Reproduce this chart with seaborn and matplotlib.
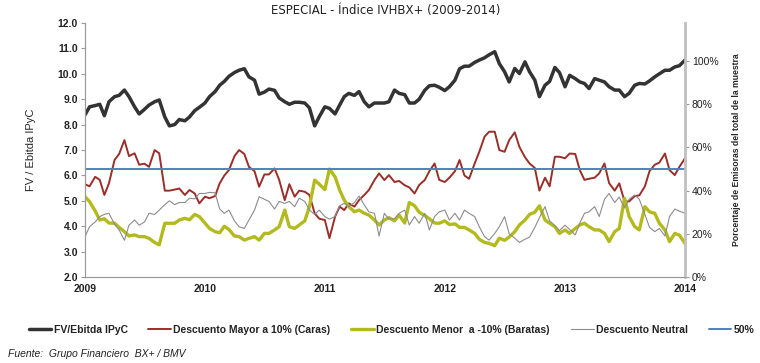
import pandas as pd
import numpy as np
import matplotlib
matplotlib.use("Agg")
import matplotlib.pyplot as plt
import matplotlib.dates as mdates
import seaborn as sns

# semi-monthly points, Jan 2009 - Jan 2014 (121 points)
fechas = pd.date_range("2009-01-01", "2014-01-01", freq="SMS")

# FV/Ebitda IPyC (left axis, multiple)
fv_ebitda = [
    8.38, 8.70, 8.75, 8.80, 8.35, 8.90, 9.10, 9.15, 9.36, 9.10,
    8.70, 8.42, 8.60, 8.77, 8.90, 8.97, 8.30, 7.95, 8.00, 8.20,
    8.15, 8.30, 8.55, 8.68, 8.85, 9.10, 9.30, 9.55, 9.70, 9.90,
    10.05, 10.14, 10.20, 9.88, 9.75, 9.20, 9.28, 9.40, 9.35, 9.05,
    8.90, 8.80, 8.88, 8.88, 8.85, 8.66, 7.95, 8.31, 8.70, 8.64,
    8.42, 8.77, 9.10, 9.23, 9.15, 9.30, 8.90, 8.70, 8.85, 8.85,
    8.85, 8.90, 9.36, 9.23, 9.18, 8.85, 8.85, 9.00, 9.35, 9.53,
    9.55, 9.47, 9.34, 9.49, 9.75, 10.20, 10.30, 10.30, 10.45, 10.54,
    10.63, 10.75, 10.87, 10.40, 10.08, 9.68, 10.21, 10.01, 10.47, 10.08,
    9.75, 9.10, 9.55, 9.70, 10.25, 10.05, 9.49, 9.94, 9.81, 9.68,
    9.62, 9.42, 9.81, 9.75, 9.68, 9.49, 9.36, 9.36, 9.10, 9.23,
    9.55, 9.62, 9.60, 9.72, 9.88, 10.00, 10.14, 10.14, 10.27, 10.32,
    10.54,
]

# % of issuers (right axis)
caras = [
    43.0, 42.0, 46.4, 45.0, 38.0, 43.4, 54.2, 57.0, 63.4, 56.0,
    57.3, 52.0, 52.5, 51.0, 58.8, 57.3, 40.0, 40.0, 40.5, 41.0,
    38.0, 40.3, 38.7, 34.1, 37.2, 36.5, 37.5, 43.4, 47.0, 49.5,
    56.0, 58.8, 57.0, 51.0, 49.0, 41.8, 47.5, 47.5, 50.3, 45.0,
    35.6, 43.0, 37.2, 40.0, 39.5, 38.0, 29.5, 27.0, 26.4, 18.0,
    27.9, 32.6, 31.0, 34.1, 32.6, 35.6, 38.0, 40.3, 44.9, 48.0,
    44.9, 47.2, 44.0, 44.5, 42.5, 41.5, 38.7, 42.6, 44.9, 49.0,
    52.6, 45.0, 44.0, 46.0, 49.0, 54.2, 47.0, 45.5, 52.6, 58.0,
    65.0, 67.3, 67.3, 58.8, 58.0, 63.4, 67.0, 60.3, 55.5, 52.6,
    50.5, 40.0, 46.0, 42.0, 55.7, 55.7, 55.0, 57.2, 57.0, 49.5,
    45.0, 45.5, 46.0, 48.0, 52.6, 43.5, 40.0, 43.4, 35.0, 35.0,
    37.5, 37.8, 42.0, 49.0, 52.0, 53.0, 57.2, 49.5, 47.2, 51.0,
    55.0,
]

baratas = [
    37.2, 34.9, 30.6, 26.4, 27.0, 25.0, 24.9, 23.0, 21.0, 19.0,
    19.5, 18.7, 18.7, 17.9, 16.0, 14.9, 24.9, 24.9, 24.9, 26.4,
    27.2, 26.5, 29.0, 28.0, 25.0, 22.5, 21.0, 20.5, 23.5, 22.0,
    19.0, 18.7, 17.1, 17.9, 18.7, 17.1, 20.2, 20.2, 21.8, 23.3,
    31.0, 23.3, 22.5, 24.1, 26.0, 32.6, 44.9, 43.0, 40.5, 50.0,
    46.4, 40.3, 35.6, 32.6, 30.2, 31.0, 29.5, 28.7, 26.4, 24.1,
    26.4, 27.5, 26.0, 28.7, 25.0, 34.5, 33.0, 30.0, 28.5, 27.0,
    25.0, 24.9, 26.0, 24.3, 24.6, 23.0, 23.0, 21.8, 20.2, 17.5,
    16.0, 15.6, 14.5, 18.0, 17.0, 18.5, 21.0, 24.1, 26.4, 29.0,
    30.0, 33.0, 26.4, 24.9, 23.3, 20.2, 21.8, 20.2, 22.5, 24.1,
    24.9, 23.3, 21.8, 21.8, 20.2, 16.4, 21.0, 22.5, 36.5, 28.0,
    23.3, 21.8, 32.6, 30.2, 29.5, 24.9, 21.8, 16.4, 20.2, 19.4,
    15.6,
]

neutral = [
    18.7, 23.3, 25.5, 28.0, 29.0, 29.5, 24.5, 21.8, 17.0, 24.0,
    26.4, 24.0, 25.5, 29.5, 29.0, 31.0, 33.5, 35.3, 33.5, 34.5,
    34.5, 36.5, 36.2, 38.7, 38.7, 39.2, 39.0, 31.5, 29.5, 31.0,
    26.0, 23.3, 22.5, 26.4, 31.0, 37.2, 36.0, 35.0, 31.5, 35.0,
    34.1, 35.0, 32.6, 36.5, 35.0, 31.0, 29.0, 31.0, 28.0, 26.8,
    28.0, 33.0, 34.1, 32.6, 34.5, 37.5, 33.4, 30.2, 29.5, 19.0,
    29.5, 26.8, 27.0, 29.5, 31.0, 24.1, 28.0, 24.9, 29.5, 21.8,
    28.0, 30.2, 31.0, 26.4, 29.5, 26.4, 31.0, 29.5, 28.0, 23.3,
    18.7, 17.1, 20.2, 23.3, 28.0, 20.0, 18.0, 16.0, 17.5, 18.5,
    23.0, 27.5, 32.6, 26.0, 23.8, 21.5, 24.0, 22.0, 19.5, 25.0,
    29.5, 30.2, 32.6, 28.0, 36.0, 38.7, 34.5, 37.0, 32.0, 36.0,
    38.0, 36.0, 29.0, 23.0, 21.0, 22.5, 19.0, 28.0, 31.5, 30.5,
    29.5,
]

linea_50 = 50
etiquetas = ["FV/Ebitda IPyC", "Descuento Mayor a 10% (Caras)",
             "Descuento Menor  a -10% (Baratas)", "Descuento Neutral", "50%"]

df = pd.DataFrame({"fecha": fechas, "fv": fv_ebitda, "caras": caras,
                   "baratas": baratas, "neutral": neutral})

sns.set_style("white")
plt.rcParams["font.family"] = ["Liberation Sans", "DejaVu Sans"]

fig = plt.figure(figsize=(7.6, 3.63), dpi=100)
ax = fig.add_axes([0.1118, 0.2369, 0.7895, 0.6997])
ax2 = ax.twinx()

sns.lineplot(data=df, x="fecha", y="fv", ax=ax, color="#333333", lw=2.5, label=etiquetas[0], legend=False)
sns.lineplot(data=df, x="fecha", y="caras", ax=ax2, color="#9b2d2a", lw=1.4, label=etiquetas[1], legend=False)
sns.lineplot(data=df, x="fecha", y="baratas", ax=ax2, color="#b3ba1e", lw=2.4, label=etiquetas[2], legend=False)
sns.lineplot(data=df, x="fecha", y="neutral", ax=ax2, color="#8c8c8c", lw=0.8, label=etiquetas[3], legend=False)
ax2.axhline(linea_50, color="#4f81bd", lw=1.4, label=etiquetas[4])

ax.set_ylim(2, 12)
ax.set_yticks(np.arange(2, 12.1, 1))
ax.set_yticklabels([f"{v:.1f}" for v in np.arange(2, 12.1, 1)])
ax2.set_ylim(0, 1000 / 8.5)
ax2.set_yticks(range(0, 101, 20))
ax2.set_yticklabels([f"{v}%" for v in range(0, 101, 20)])

ax.set_xlim(fechas[0], fechas[-1])
ax.xaxis.set_major_locator(mdates.YearLocator())
ax.xaxis.set_major_formatter(mdates.DateFormatter("%Y"))
ax.set_xlabel("")

for a in (ax, ax2):
    a.spines["top"].set_visible(False)
    a.spines["left"].set_color("#9a9a9a")
    a.spines["bottom"].set_color("#9a9a9a")
ax2.spines["right"].set_color("#c0c0c0")
ax2.spines["right"].set_linewidth(2)
ax.spines["right"].set_visible(False)

ax.tick_params(axis="both", direction="out", length=3, width=0.8, color="#9a9a9a",
               labelsize=7.5, pad=2)
ax2.tick_params(axis="y", direction="out", length=3, width=0.8, color="#9a9a9a",
                labelsize=7.5, pad=2)
for lbl in ax.get_xticklabels() + ax.get_yticklabels():
    lbl.set_fontweight("bold")
    lbl.set_color("#222222")
for lbl in ax2.get_yticklabels():
    lbl.set_color("#222222")

ax.set_ylabel("FV / Ebitda IPyC", fontsize=8, labelpad=16)
ax2.set_ylabel("Porcentaje de Emisoras del total de la muestra", fontsize=6.2,
               labelpad=10, fontweight="bold")

fig.text(0.507, 0.972, "ESPECIAL - Índice IVHBX+ (2009-2014)", ha="center", va="center",
         fontsize=8.5, family="DejaVu Sans", color="#222222")

h1, l1 = ax.get_legend_handles_labels()
h2, l2 = ax2.get_legend_handles_labels()
leg = fig.legend(h1 + h2, l1 + l2, loc="center", bbox_to_anchor=(0.515, 0.091), ncol=5,
                 frameon=False, fontsize=7.5, handlelength=2.2, handletextpad=0.2,
                 columnspacing=2.0)
for t in leg.get_texts():
    t.set_fontweight("bold")
    t.set_color("#222222")

fig.text(0.01, 0.025, "Fuente:  Grupo Financiero  BX+ / BMV", fontsize=7.5,
         style="italic", ha="left", va="center", color="#222222")

fig.savefig("out.png", dpi=100)
